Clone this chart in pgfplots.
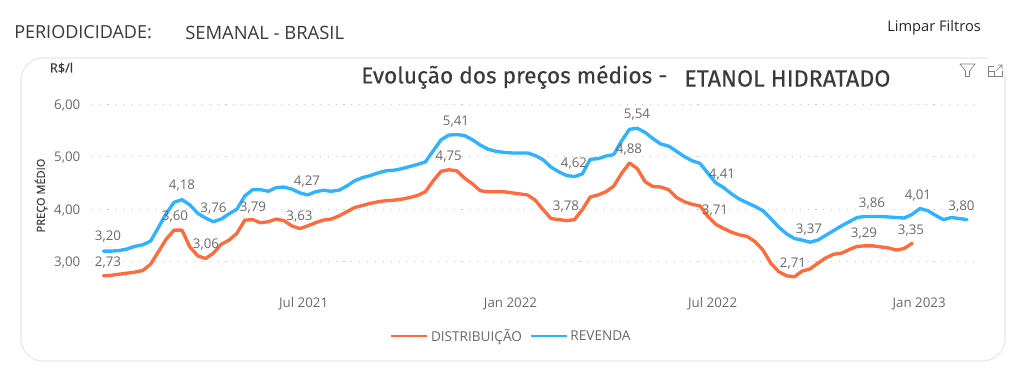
\documentclass[border=0pt]{standalone}
\usepackage{pgfplots}
\pgfplotsset{compat=1.18}
\usepackage{pgfplotstable}
\usepackage{fontspec}
\setmainfont{Open Sans}
\newfontfamily\titlefont[FakeBold=0.25]{Fira Sans}
\newfontfamily\medfont[FakeBold=0.35]{Open Sans}
\definecolor{ora}{HTML}{FF6B3D}
\definecolor{blu}{HTML}{2FB2FF}
\definecolor{lab}{HTML}{6A6A6A}
\definecolor{dark}{HTML}{3A3A3A}
\definecolor{card}{HTML}{E9E9E9}
\pgfplotstableread{
i v
0 2.73
1 2.74
2 2.76
3 2.78
4 2.80
5 2.83
6 2.95
7 3.19
8 3.43
9 3.60
10 3.60
11 3.28
12 3.11
13 3.06
14 3.16
15 3.33
16 3.41
17 3.54
18 3.79
19 3.80
20 3.74
21 3.76
22 3.81
23 3.78
24 3.68
25 3.63
26 3.68
27 3.74
28 3.79
29 3.81
30 3.87
31 3.95
32 4.03
33 4.07
34 4.11
35 4.14
36 4.16
37 4.17
38 4.19
39 4.22
40 4.26
41 4.33
42 4.54
43 4.72
44 4.75
45 4.73
46 4.59
47 4.48
48 4.35
49 4.33
50 4.33
51 4.33
52 4.31
53 4.29
54 4.27
55 4.17
56 3.99
57 3.82
58 3.80
59 3.78
60 3.80
61 3.99
62 4.23
63 4.27
64 4.33
65 4.44
66 4.68
67 4.88
68 4.77
69 4.52
70 4.43
71 4.42
72 4.37
73 4.22
74 4.14
75 4.09
76 4.06
77 3.86
78 3.71
79 3.63
80 3.56
81 3.51
82 3.48
83 3.38
84 3.22
85 2.97
86 2.81
87 2.73
88 2.71
89 2.82
90 2.86
91 2.97
92 3.07
93 3.14
94 3.16
95 3.23
96 3.29
97 3.30
98 3.30
99 3.28
100 3.26
101 3.22
102 3.25
103 3.35
}\dist
\pgfplotstableread{
i v
0 3.20
1 3.20
2 3.21
3 3.24
4 3.29
5 3.32
6 3.39
7 3.65
8 3.92
9 4.13
10 4.18
11 4.08
12 3.92
13 3.83
14 3.76
15 3.81
16 3.91
17 4.00
18 4.25
19 4.37
20 4.37
21 4.34
22 4.41
23 4.42
24 4.38
25 4.31
26 4.27
27 4.33
28 4.36
29 4.34
30 4.36
31 4.44
32 4.54
33 4.60
34 4.64
35 4.69
36 4.73
37 4.74
38 4.77
39 4.81
40 4.85
41 4.90
42 5.11
43 5.32
44 5.41
45 5.42
46 5.40
47 5.32
48 5.22
49 5.14
50 5.10
51 5.08
52 5.07
53 5.07
54 5.07
55 5.02
56 4.94
57 4.80
58 4.71
59 4.64
60 4.62
61 4.67
62 4.95
63 4.96
64 5.01
65 5.04
66 5.30
67 5.52
68 5.54
69 5.46
70 5.34
71 5.24
72 5.20
73 5.10
74 5.00
75 4.92
76 4.87
77 4.68
78 4.50
79 4.41
80 4.29
81 4.19
82 4.12
83 4.05
84 3.97
85 3.82
86 3.66
87 3.53
88 3.44
89 3.41
90 3.37
91 3.41
92 3.50
93 3.59
94 3.68
95 3.76
96 3.84
97 3.86
98 3.86
99 3.86
100 3.85
101 3.84
102 3.83
103 3.90
104 4.01
105 3.97
106 3.88
107 3.80
108 3.84
109 3.82
110 3.80
}\reve
\newcommand{\dl}[3]{\node[text=lab,font=\fontsize{10}{12}\selectfont,inner sep=0pt,yshift=-1.2pt] at (#1,#2) {#3};}
\begin{document}
\begin{tikzpicture}[x=0.75pt,y=-0.75pt]
\path[fill=white] (0,0) rectangle (1024,373);
% card
\draw[card,line width=0.9pt,rounded corners=16.5pt] (988,58) -- (21,58) -- (21,361) -- (1005,361) -- (1005,75);
\begin{axis}[
  at={(68.775pt,-219.825pt)},anchor=south west,
  scale only axis,width=661.5pt,height=141.75pt,
  xmin=-1.5,xmax=110.85,ymin=2.4,ymax=6,
  axis line style={draw=none},tick style={draw=none},
  ytick={3,4,5,6},ymajorgrids,
  grid style={line width=0.8pt,dash pattern=on 0.8pt off 5.1pt,color=black!22},
  xtick={25.5,51.85,77.6,103.9},
  xticklabels={Jul 2021,Jan 2022,Jul 2022,Jan 2023},
  /pgf/number format/assume math mode=true,
  /pgf/number format/fixed,
  /pgf/number format/fixed zerofill,
  /pgf/number format/precision=2,
  /pgf/number format/use comma,
  ticklabel style={text=lab,font=\fontsize{10}{12}\selectfont},
  yticklabel style={xshift=-5pt,yshift=-0.7pt},
  xticklabel style={yshift=0.3pt},
  legend style={draw=none,fill=none,at={(0.476,-0.228)},anchor=center,legend columns=2,
    font=\fontsize{10.2}{12}\selectfont,text=lab,inner sep=0pt,
    /tikz/every even column/.append style={column sep=3.5pt}},
  legend cell align=left,
  legend image code/.code={\draw[#1,line width=1.9pt,line cap=butt] (0pt,0pt) -- (27pt,0pt);},
  every axis plot/.append style={line join=round,line cap=round,line width=2.5pt},
]
\addplot[ora] table[x=i,y=v] {\dist};
\addlegendentry{DISTRIBUIÇÃO}
\addplot[blu] table[x=i,y=v] {\reve};
\addlegendentry{REVENDA}
\end{axis}
% data labels
\dl{108}{235}{3,20}
\dl{108}{261}{2,73}
\dl{182}{184}{4,18}
\dl{175}{215}{3,60}
\dl{213.5}{207}{3,76}
\dl{206}{243}{3,06}
\dl{253}{206}{3,79}
\dl{307}{180}{4,27}
\dl{299.5}{214.5}{3,63}
\dl{456}{120}{5,41}
\dl{448.7}{155}{4,75}
\dl{574}{162}{4,62}
\dl{566}{205}{3,78}
\dl{637}{113}{5,54}
\dl{629}{148}{4,88}
\dl{722}{172.5}{4,41}
\dl{715}{209}{3,71}
\dl{809}{228}{3,37}
\dl{793}{262}{2,71}
\dl{872}{201.5}{3,86}
\dl{864}{232}{3,29}
\dl{918}{194}{4,01}
\dl{911}{229}{3,35}
\dl{961.5}{204.5}{3,80}
% texts
\node[anchor=west,inner sep=0pt,text=dark,font=\fontsize{13.5}{16}\selectfont] at (14,32.5) {PERIODICIDADE:};
\node[anchor=west,inner sep=0pt,text=dark,font=\fontsize{13.8}{16}\selectfont] at (185,33) {SEMANAL - BRASIL};
\node[anchor=west,inner sep=0pt,text=black!85,font=\fontsize{11}{13}\selectfont] at (887,28) {Limpar Filtros};
\node[anchor=west,inner sep=0pt,text=dark,font=\titlefont\fontsize{17}{20}\selectfont] at (361,77) {Evolução dos preços médios -};
\node[anchor=west,inner sep=0pt,text=dark,font=\titlefont\fontsize{17.5}{20}\selectfont] at (684,78.5) {ETANOL HIDRATADO};
\node[anchor=center,inner sep=0pt,text=dark,font=\medfont\fontsize{9.6}{11}\selectfont] at (61.5,68) {R\$/l};
\node[anchor=center,rotate=90,inner sep=0pt,text=dark,font=\medfont\fontsize{8.3}{10}\selectfont] at (41,195.5) {PREÇO MÉDIO};
% filter and expand icons
\draw[black!50,line width=0.5pt,line join=round] (960,64)--(975,64)--(969.5,71)--(969.5,76.5)--(965.5,76.5)--(965.5,71)--cycle;
\draw[black!50,line width=0.5pt] (994,66)--(988,66)--(988,76.5)--(1002,76.5)--(1002,71);
\draw[black!50,line width=0.5pt] (988,71.5)--(994,71.5)--(994,76.5);
\draw[black!50,line width=0.5pt] (996,71)--(1002,65) (998,65)--(1002,65)--(1002,69);
\end{tikzpicture}
\end{document}
